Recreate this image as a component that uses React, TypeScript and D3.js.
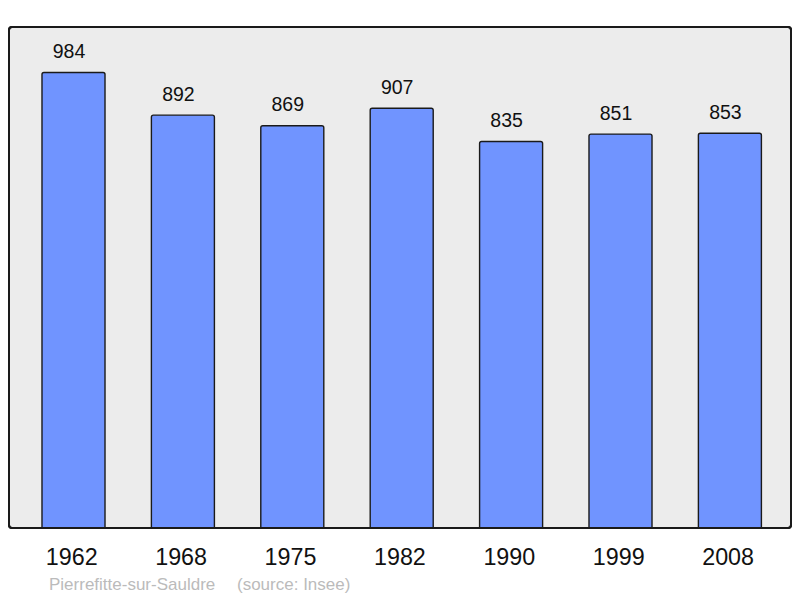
import React from "react";
import * as d3 from "d3";

const years = ["1962", "1968", "1975", "1982", "1990", "1999", "2008"];
const population = [984, 892, 869, 907, 835, 851, 853];
const commune = "Pierrefitte-sur-Sauldre";
const source = "(source: Insee)";

export default function App() {
  const W = 800, H = 598;
  const frame = { x: 9, y: 27, w: 782, h: 501 };
  const baseY = frame.y + frame.h;
  const x = d3.scaleBand<string>().domain(years).range([18.8, 784.6]).paddingInner(0.424).paddingOuter(0.212);
  const yMax = d3.max(population)! * 1.1;
  const y = d3.scaleLinear().domain([0, yMax]).range([baseY, frame.y]);
  const font = "'Liberation Sans', Arial, sans-serif";
  const bw = x.bandwidth();
  return (
    <svg width={W} height={H} style={{ position: "absolute", left: 0, top: 0 }}>
      <rect x={frame.x} y={frame.y} width={frame.w} height={frame.h} rx={3} ry={3} fill="#ececec" stroke="#1a1a1a" strokeWidth={2} />
      {years.map((yr, i) => {
        const bx = x(yr)!;
        const by = y(population[i]);
        const cx = bx + bw / 2;
        return (
          <g key={yr}>
            <path
              d={`M${bx},${baseY} V${by + 2} Q${bx},${by} ${bx + 2},${by} H${bx + bw - 2} Q${bx + bw},${by} ${bx + bw},${by + 2} V${baseY}`}
              fill="#7094ff"
              stroke="#1a1a1a"
              strokeWidth={1.4}
            />
            <text x={cx - 4.5} y={by - 14.5} textAnchor="middle" fontFamily={font} fontSize={19.5} fill="#111">
              {population[i]}
            </text>
            <text x={cx - 1.8} y={565} textAnchor="middle" fontFamily={font} fontSize={23.3} fill="#111">
              {yr}
            </text>
          </g>
        );
      })}
      <rect x={frame.x} y={frame.y} width={frame.w} height={frame.h} rx={3} ry={3} fill="none" stroke="#1a1a1a" strokeWidth={2} />
      <text x={49} y={590} fontFamily={font} fontSize={17} fill="#bbbbbb">
        {commune}
        <tspan x={237}>{source}</tspan>
      </text>
    </svg>
  );
}
